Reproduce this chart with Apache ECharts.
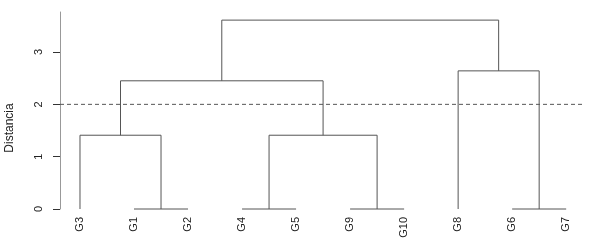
<!DOCTYPE html>
<html>
<head>
<meta charset="utf-8">
<script src="https://cdn.jsdelivr.net/npm/echarts@6/dist/echarts.min.js"></script>
<style>
html,body{margin:0;padding:0;background:#fff;}
#chart{width:590px;height:243px;}
</style>
</head>
<body>
<div id="chart"></div>
<script>
// Leaf order as drawn
const leaves = ['G3', 'G1', 'G2', 'G4', 'G5', 'G9', 'G10', 'G8', 'G6', 'G7'];
// Merge steps: negative = leaf (1-based index into leaves), positive = earlier merge step (1-based)
const mergeLeft  = [-2, -4, -6, -9, -1, 2, 5, -8, 7];
const mergeRight = [-3, -5, -7, -10, 1, 3, 6, 4, 8];
const mergeHeights = [0, 0, 0, 0, 1.41, 1.41, 2.45, 2.64, 3.61];
const cutHeight = 2;
const yTickValues = [0, 1, 2, 3];
const yAxisTitle = 'Distancia';

// Build segments from the tree
const nodeX = [], nodeH = [];
function pos(ref) {
  if (ref < 0) return [-ref, 0];
  return [nodeX[ref - 1], nodeH[ref - 1]];
}
const segments = [];
for (let k = 0; k < mergeLeft.length; k++) {
  const [xl, hl] = pos(mergeLeft[k]);
  const [xr, hr] = pos(mergeRight[k]);
  const h = mergeHeights[k];
  segments.push([xl, hl, xl, h]);
  segments.push([xl, h, xr, h]);
  segments.push([xr, hr, xr, h]);
  nodeX.push((xl + xr) / 2);
  nodeH.push(h);
}
const leafPositions = leaves.map((_, i) => i + 1);

const xMin = 0.63, xMax = 10.33;
const chart = echarts.init(document.getElementById('chart'), null, {renderer: 'canvas'});
chart.setOption({
  animation: false,
  backgroundColor: '#fff',
  grid: {left: 60, right: 6, top: 12, bottom: 34, containLabel: false},
  xAxis: {
    type: 'value', min: xMin, max: xMax,
    axisLine: {show: false}, axisTick: {show: false}, splitLine: {show: false},
    axisLabel: {
      customValues: leafPositions,
      rotate: 90, margin: 8,
      fontFamily: 'Liberation Sans', fontSize: 11, color: '#222',
      formatter: v => leaves[Math.round(v) - 1] || ''
    }
  },
  yAxis: {
    type: 'value', min: 0, max: 3.765,
    axisLine: {show: true, lineStyle: {color: '#999', width: 1}},
    axisTick: {show: true, customValues: yTickValues, length: 7, lineStyle: {color: '#333'}},
    axisLabel: {customValues: yTickValues, rotate: 90, margin: 16,
      fontFamily: 'Liberation Sans', fontSize: 11, color: '#222'},
    splitLine: {show: false}
  },
  graphic: [{
    type: 'text', x: 10, y: 128, rotation: Math.PI / 2,
    style: {text: yAxisTitle, fontFamily: 'Liberation Sans', fontSize: 12, fill: '#222',
      align: 'center', verticalAlign: 'middle'}
  }],
  series: [
    {
      type: 'custom',
      data: segments,
      renderItem: function (params, api) {
        const p1 = api.coord([api.value(0), api.value(1)]);
        const p2 = api.coord([api.value(2), api.value(3)]);
        return {
          type: 'line',
          shape: {x1: p1[0], y1: p1[1], x2: p2[0], y2: p2[1]},
          style: {stroke: '#555', lineWidth: 1}
        };
      },
      clip: false
    },
    {
      type: 'line',
      data: [[xMin, cutHeight], [xMax, cutHeight]],
      symbol: 'none',
      lineStyle: {color: '#555', width: 1, type: [4, 3]}
    }
  ]
});
</script>
</body>
</html>
